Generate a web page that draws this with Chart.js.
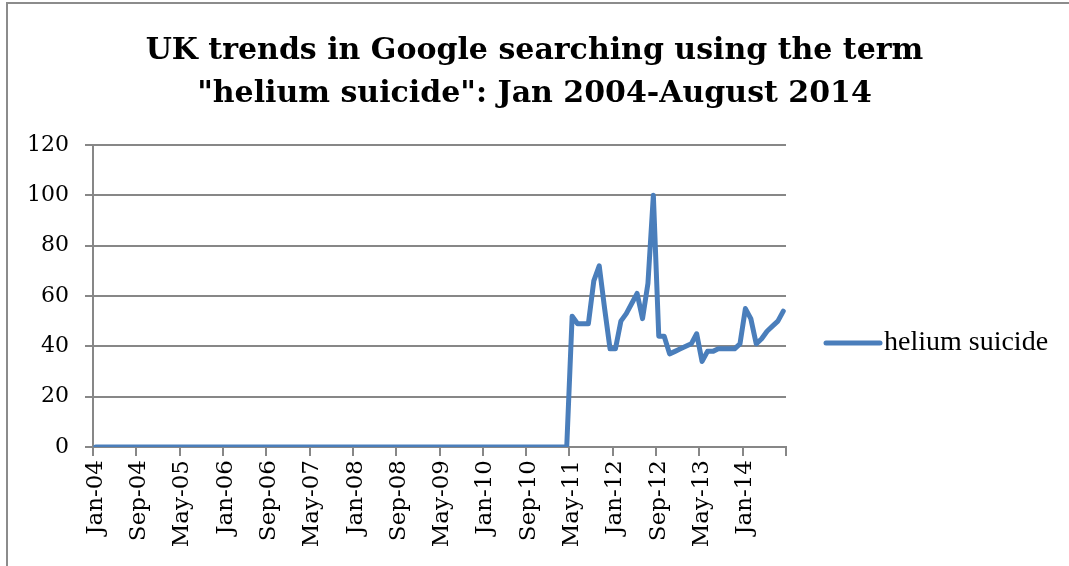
<!DOCTYPE html>
<html>
<head>
<meta charset="utf-8">
<script src="https://cdn.jsdelivr.net/npm/chart.js@4"></script>
<style>
  html, body { margin: 0; padding: 0; background: #fff; overflow: hidden; }
  #wrap { position: relative; width: 1069px; height: 566px; overflow: hidden; }
  .edge { position: absolute; background: #8c8c8c; pointer-events: none; }
  #edgeTop { left: 6px; top: 2px; width: 1100px; height: 2px; }
  #edgeLeft { left: 6px; top: 2px; width: 2px; height: 600px; }
  canvas { position: absolute; left: 0; top: 0; }
</style>
</head>
<body>
<div id="wrap">
  <canvas id="myChart" width="1069" height="566"></canvas>
  <div class="edge" id="edgeTop"></div>
  <div class="edge" id="edgeLeft"></div>
</div>
<script>
// month names and two-digit years used to build the category labels
const monthNames = ['Jan', 'Feb', 'Mar', 'Apr', 'May', 'Jun', 'Jul', 'Aug', 'Sep', 'Oct', 'Nov', 'Dec'];
const years = ['04', '05', '06', '07', '08', '09', '10', '11', '12', '13', '14'];
const lastMonth = 'Aug-14';

// search interest, one value per month Jan-04 .. Aug-14
const heliumSuicide = [
  0, 0, 0, 0, 0, 0, 0, 0, 0, 0, 0, 0,       // 2004
  0, 0, 0, 0, 0, 0, 0, 0, 0, 0, 0, 0,       // 2005
  0, 0, 0, 0, 0, 0, 0, 0, 0, 0, 0, 0,       // 2006
  0, 0, 0, 0, 0, 0, 0, 0, 0, 0, 0, 0,       // 2007
  0, 0, 0, 0, 0, 0, 0, 0, 0, 0, 0, 0,       // 2008
  0, 0, 0, 0, 0, 0, 0, 0, 0, 0, 0, 0,       // 2009
  0, 0, 0, 0, 0, 0, 0, 0, 0, 0, 0, 0,       // 2010
  0, 0, 0, 0, 52, 49, 49, 49, 66, 72, 55, 39, // 2011
  39, 50, 53, 57, 61, 51, 65, 100, 44, 44, 37, 38, // 2012
  39, 40, 41, 45, 34, 38, 38, 39, 39, 39, 39, 41, // 2013
  55, 51, 41, 43, 46, 48, 50, 54             // 2014
];

const yTicks = [0, 20, 40, 60, 80, 100, 120];
const labelEvery = 8;

const categories = [];
for (const yy of years) {
  for (const m of monthNames) {
    const label = m + '-' + yy;
    categories.push(label);
    if (label === lastMonth) break;
  }
}

const gray = '#878787';
const blue = '#4a7ebb';
const serif = "'DejaVu Serif', serif";

// legend drawn to the right of the plot, Excel style: short line then the name
const sideLegend = {
  id: 'sideLegend',
  afterDraw(chart) {
    const ctx = chart.ctx;
    const ds = chart.data.datasets[0];
    const x0 = chart.chartArea.right + 40;
    const y0 = 343;
    ctx.save();
    ctx.strokeStyle = ds.borderColor;
    ctx.lineWidth = ds.borderWidth;
    ctx.lineCap = 'round';
    ctx.beginPath();
    ctx.moveTo(x0, y0);
    ctx.lineTo(x0 + 54, y0);
    ctx.stroke();
    ctx.fillStyle = '#000';
    ctx.font = "28px 'Liberation Serif', serif";
    ctx.textBaseline = 'middle';
    ctx.fillText(ds.label, x0 + 58, y0);
    ctx.restore();
  }
};

new Chart(document.getElementById('myChart'), {
  type: 'line',
  data: {
    labels: categories,
    datasets: [{
      label: 'helium suicide',
      data: heliumSuicide,
      borderColor: blue,
      backgroundColor: blue,
      borderWidth: 5,
      borderJoinStyle: 'round',
      borderCapStyle: 'round',
      pointRadius: 0,
      tension: 0
    }]
  },
  options: {
    responsive: false,
    animation: false,
    layout: { padding: 0 },
    plugins: {
      title: {
        display: true,
        text: ['UK trends in Google searching using the term', '"helium suicide": Jan 2004-August 2014'],
        color: '#000',
        font: { family: serif, size: 30, weight: 'bold', lineHeight: 1.45 },
        padding: { top: 29, bottom: 29 }
      },
      legend: { display: false },
      tooltip: { enabled: false }
    },
    scales: {
      x: {
        type: 'category',
        offset: true,
        afterFit: (scale) => { scale.height = 119; },
        grid: {
          offset: true,
          drawOnChartArea: false,
          drawTicks: true,
          tickLength: 9,
          lineWidth: 2,
          tickColor: (ctx) => (ctx.index === undefined || ctx.index % labelEvery === 0) ? gray : 'rgba(0,0,0,0)'
        },
        border: { color: gray, width: 2 },
        ticks: {
          autoSkip: false,
          minRotation: 90,
          maxRotation: 90,
          padding: 4,
          color: '#000',
          font: { family: serif, size: 23 },
          callback: function (value, index) {
            return index % labelEvery === 0 ? this.getLabelForValue(value) : '';
          }
        }
      },
      y: {
        min: 0,
        max: 120,
        afterFit: (scale) => { scale.width = 93; },
        afterBuildTicks: (scale) => { scale.ticks = yTicks.map(v => ({ value: v })); },
        grid: { color: gray, lineWidth: 2, tickLength: 8 },
        border: { color: gray, width: 2 },
        ticks: {
          padding: 16,
          color: '#000',
          font: { family: serif, size: 22 }
        }
      },
      // empty axis on the right that only reserves the room for the legend
      legendSpace: {
        position: 'right',
        min: 0,
        max: 120,
        afterFit: (scale) => { scale.width = 283; },
        grid: { display: false },
        border: { display: false },
        ticks: { display: false }
      }
    }
  },
  plugins: [sideLegend]
});
</script>
</body>
</html>
